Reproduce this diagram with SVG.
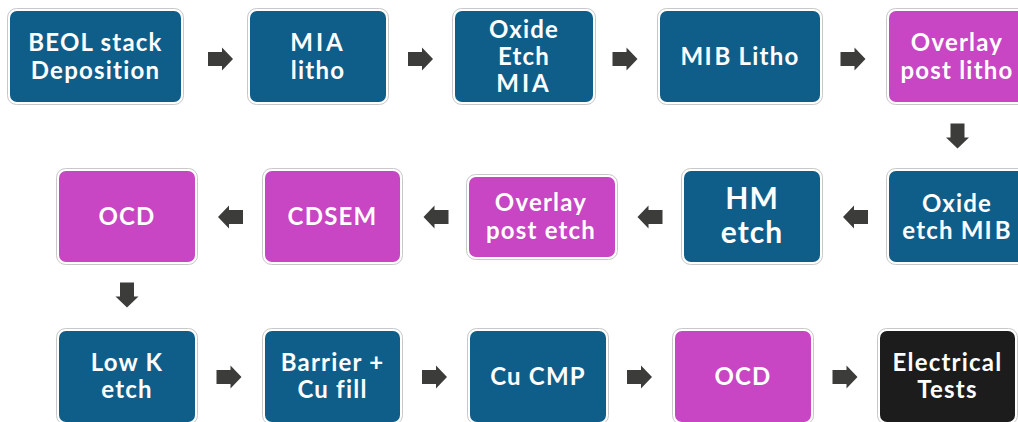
<svg xmlns="http://www.w3.org/2000/svg" xmlns:xlink="http://www.w3.org/1999/xlink" width="1018" height="422" viewBox="0 0 1018 422">
<defs>
<style>
.frame{fill:#ffffff;stroke:#c8c8c8;stroke-width:1}
.blue{fill:#0f5e8a}
.purple{fill:#c845c3}
.black{fill:#1c1c1c}
.t{font-family:Lato,"Open Sans","Liberation Sans",sans-serif;font-weight:700;font-size:24px;letter-spacing:1.2px;fill:#ffffff;text-anchor:middle}
.big{font-size:30px;letter-spacing:1px}
.sp{letter-spacing:3px}
.arr{fill:#3c3c3a}
</style>
<path id="ar" d="M-12.5,-7 H1.5 V-11.5 L12.5,0 L1.5,11.5 V7 H-12.5 Z"/>
</defs>
<rect width="1018" height="422" fill="#ffffff"/>

<g id="n1"><rect class="frame" x="7.5" y="8.5" width="176" height="96" rx="9"/><rect class="blue" x="10" y="11" width="171" height="91" rx="7"/>
<text class="t" x="95.5" y="51">BEOL stack</text><text class="t" x="95.5" y="79">Deposition</text></g>
<g id="n2"><rect class="frame" x="247.5" y="8.5" width="141" height="96" rx="9"/><rect class="blue" x="250" y="11" width="136" height="91" rx="7"/>
<text class="t sp" x="318" y="51">MIA</text><text class="t" x="318" y="79">litho</text></g>
<g id="n3"><rect class="frame" x="452.5" y="8.5" width="143" height="96" rx="9"/><rect class="blue" x="455" y="11" width="138" height="91" rx="7"/>
<text class="t" x="524" y="38">Oxide</text><text class="t" x="524" y="65">Etch</text><text class="t sp" x="524" y="92">MIA</text></g>
<g id="n4"><rect class="frame" x="657.5" y="8.5" width="165" height="96" rx="9"/><rect class="blue" x="660" y="11" width="160" height="91" rx="7"/>
<text class="t" x="740" y="65">M<tspan class="sp">I</tspan>B Litho</text></g>
<g id="n5"><rect class="frame" x="886.5" y="8.5" width="141" height="96" rx="9"/><rect class="purple" x="889" y="11" width="136" height="91" rx="7"/>
<text class="t" x="957" y="51">Overlay</text><text class="t" x="957" y="79">post litho</text></g>

<g id="n6"><rect class="frame" x="886.5" y="168.5" width="141" height="96" rx="9"/><rect class="blue" x="889" y="171" width="136" height="91" rx="7"/>
<text class="t" x="957" y="212">Oxide</text><text class="t" x="957" y="239">etch M<tspan class="sp">I</tspan>B</text></g>
<g id="n7"><rect class="frame" x="681.5" y="168.5" width="141" height="96" rx="9"/><rect class="blue" x="684" y="171" width="136" height="91" rx="7"/>
<text class="t big" x="752" y="209">HM</text><text class="t big" x="752" y="243">etch</text></g>
<g id="n8"><rect class="frame" x="466.5" y="174.5" width="151" height="85" rx="9"/><rect class="purple" x="469" y="177" width="146" height="80" rx="7"/>
<text class="t" x="541" y="211">Overlay</text><text class="t" x="541" y="239">post etch</text></g>
<g id="n9"><rect class="frame" x="262.5" y="168.5" width="140" height="96" rx="9"/><rect class="purple" x="265" y="171" width="135" height="91" rx="7"/>
<text class="t" x="332.5" y="225">CDSEM</text></g>
<g id="n10"><rect class="frame" x="56.5" y="168.5" width="141" height="96" rx="9"/><rect class="purple" x="59" y="171" width="136" height="91" rx="7"/>
<text class="t" x="127" y="225">OCD</text></g>

<g id="n11"><rect class="frame" x="56.5" y="328.5" width="141" height="96" rx="9"/><rect class="blue" x="59" y="331" width="136" height="91" rx="7"/>
<text class="t" x="127" y="371">Low K</text><text class="t" x="127" y="398">etch</text></g>
<g id="n12"><rect class="frame" x="262.5" y="328.5" width="140" height="96" rx="9"/><rect class="blue" x="265" y="331" width="135" height="91" rx="7"/>
<text class="t" x="332.5" y="371">Barrier +</text><text class="t" x="332.5" y="398">Cu fill</text></g>
<g id="n13"><rect class="frame" x="467.5" y="328.5" width="141" height="96" rx="9"/><rect class="blue" x="470" y="331" width="136" height="91" rx="7"/>
<text class="t" x="538" y="385">Cu CMP</text></g>
<g id="n14"><rect class="frame" x="672.5" y="328.5" width="141" height="96" rx="9"/><rect class="purple" x="675" y="331" width="136" height="91" rx="7"/>
<text class="t" x="743" y="385">OCD</text></g>
<g id="n15"><rect class="frame" x="877.5" y="328.5" width="140" height="96" rx="9"/><rect class="black" x="880" y="331" width="135" height="91" rx="7"/>
<text class="t" x="947.5" y="371">Electrical</text><text class="t" x="947.5" y="398">Tests</text></g>

<g id="connectors" class="arr">
<use xlink:href="#ar" transform="translate(220.5,59)"/>
<use xlink:href="#ar" transform="translate(420.5,59)"/>
<use xlink:href="#ar" transform="translate(625,59)"/>
<use xlink:href="#ar" transform="translate(853,59)"/>
<use xlink:href="#ar" transform="translate(957.5,136) rotate(90)"/>
<use xlink:href="#ar" transform="translate(855.5,217) rotate(180)"/>
<use xlink:href="#ar" transform="translate(650,217) rotate(180)"/>
<use xlink:href="#ar" transform="translate(436,217) rotate(180)"/>
<use xlink:href="#ar" transform="translate(230.5,217) rotate(180)"/>
<use xlink:href="#ar" transform="translate(127,295) rotate(90)"/>
<use xlink:href="#ar" transform="translate(229,377)"/>
<use xlink:href="#ar" transform="translate(434.5,377)"/>
<use xlink:href="#ar" transform="translate(639.5,377)"/>
<use xlink:href="#ar" transform="translate(845,377)"/>
</g>
</svg>
